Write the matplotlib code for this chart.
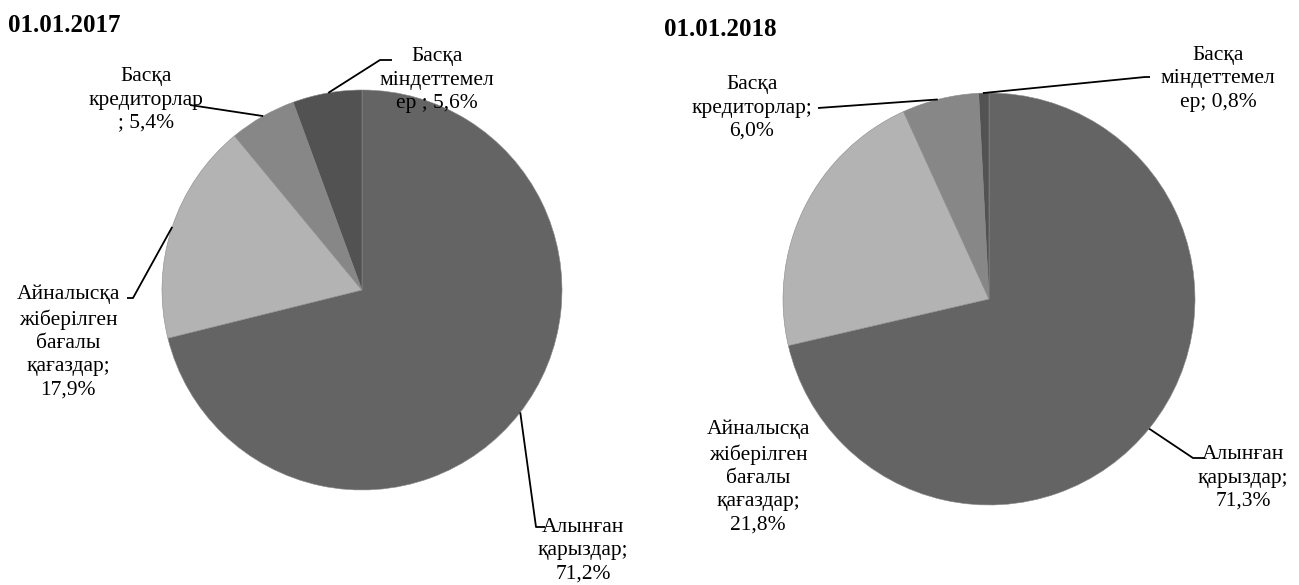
import numpy as np
import matplotlib.pyplot as plt

plt.rcParams['font.family'] = ['Liberation Serif', 'DejaVu Serif']

# данные
labels = ["Алынған\nқарыздар;", "Айналысқа\nжіберілген\nбағалы\nқағаздар;",
          "Басқа\nкредиторлар", "Басқа\nміндеттемел\nер"]
vals_2017 = [71.2, 17.9, 5.4, 5.6]
vals_2018 = [71.3, 21.8, 6.0, 0.8]
titles = ["01.01.2017", "01.01.2018"]
colors = ["#646464", "#b3b3b3", "#878787", "#525252"]

W, H = 1299, 585
fig = plt.figure(figsize=(W / 100, H / 100), dpi=100)
ax = fig.add_axes([0, 0, 1, 1])


def py(y):
    # пиксели сверху -> координаты снизу
    return H - y


def draw_pie(vals, cx, cy, r):
    wedges, _ = ax.pie(vals, colors=colors, startangle=90, counterclock=False,
                       center=(cx, py(cy)), radius=r,
                       wedgeprops=dict(edgecolor='#8a8a8a', linewidth=0.4))
    return wedges


def leader(w, pts, ang):
    # линия-выноска от края сектора (угол в градусах)
    a = np.deg2rad(ang)
    x0 = w.center[0] + w.r * np.cos(a)
    y0 = w.center[1] + w.r * np.sin(a)
    xs = [x0] + [p[0] for p in pts]
    ys = [y0] + [py(p[1]) for p in pts]
    ax.plot(xs, ys, color='black', lw=1.3, solid_capstyle='butt')


def label(txt, x, y):
    ax.text(x, py(y), txt, ha='center', va='center', fontsize=15.5,
            linespacing=1.3)


def pct(v):
    return f"{v:.1f}%".replace('.', ',')


fs_title = 18

# 2017
w1 = draw_pie(vals_2017, 362, 290, 200)
# 2018
w2 = draw_pie(vals_2018, 989, 299, 206)

# pie() сбрасывает пределы, поэтому задаём их после
ax.set_xlim(0, W)
ax.set_ylim(0, H)
ax.set_aspect('equal')
ax.axis('off')

ax.text(8, py(26), titles[0], fontsize=fs_title, fontweight='bold', va='center')
label(labels[3] + " ; " + pct(vals_2017[3]), 437, 80)
leader(w1[3], [(380, 60), (392, 60)], 99.7)
label(labels[2] + "\n; " + pct(vals_2017[2]), 146, 100)
leader(w1[2], [(190, 105)], 119.6)
label(labels[1] + "\n" + pct(vals_2017[1]), 68, 342)
leader(w1[1], [(133, 298), (127, 298)], 161.6)
label(labels[0] + "\n" + pct(vals_2017[0]), 583, 551)
leader(w1[0], [(536, 527), (545, 527)], -37.7)

ax.text(664, py(29), titles[1], fontsize=fs_title, fontweight='bold', va='center')
label(labels[3] + "; " + pct(vals_2018[3]), 1218, 79)
leader(w2[3], [(1145, 77), (1150, 77)], 91.7)
label(labels[2] + ";\n" + pct(vals_2018[2]), 752, 108)
leader(w2[2], [(818, 108)], 104.4)
label(labels[1] + "\n" + pct(vals_2018[1]), 758, 477)
label(labels[0] + "\n" + pct(vals_2018[0]), 1243, 478)
leader(w2[0], [(1193, 458), (1205, 458)], -39)

fig.savefig("out.png", dpi=100)
